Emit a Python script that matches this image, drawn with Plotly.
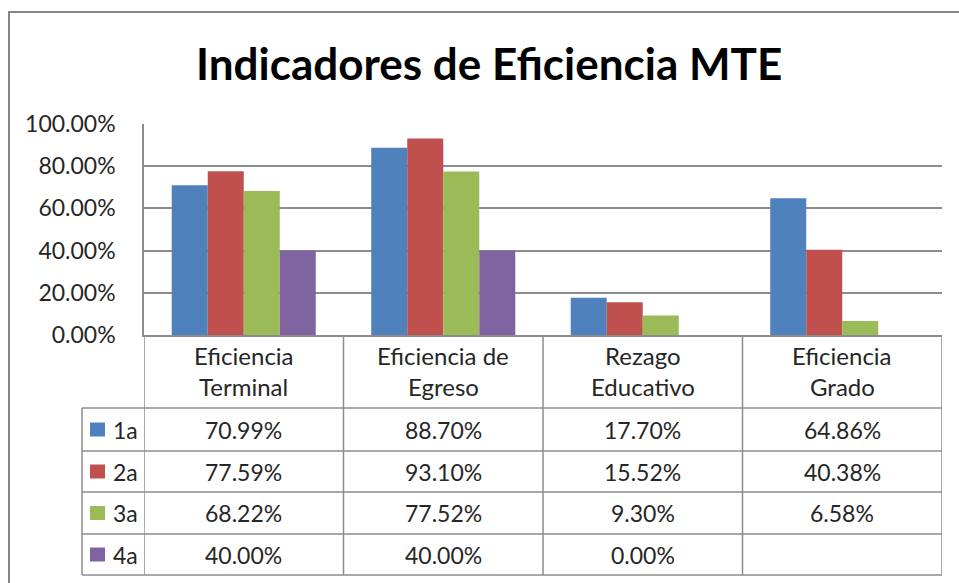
import plotly.graph_objects as go

# ---------------- data ----------------
categories = ["Eficiencia<br>Terminal", "Eficiencia de<br>Egreso", "Rezago<br>Educativo", "Eficiencia<br>Grado"]
series_names = ["1a", "2a", "3a", "4a"]
values_1a = [70.99, 88.70, 17.70, 64.86]
values_2a = [77.59, 93.10, 15.52, 40.38]
values_3a = [68.22, 77.52, 9.30, 6.58]
values_4a = [40.00, 40.00, 0.00, None]
series_colors = ["#4F81BD", "#C0504D", "#9BBB59", "#8064A2"]
y_tick_values = [0, 20, 40, 60, 80, 100]
y_tick_labels = ["0.00%", "20.00%", "40.00%", "60.00%", "80.00%", "100.00%"]
title_text = "Indicadores de Eficiencia MTE"

all_series = [values_1a, values_2a, values_3a, values_4a]

# ---------------- layout helpers ----------------
W, H = 959, 583
FONT = "Lato"
GRID = "#8C8C8C"
TXT = "#262626"
FS = 23
FS_HEAD = 24


def px(x):
    return x / W


def py(y):
    return 1 - y / H


plot_left, plot_right, plot_top, plot_bottom = 144, 942, 124, 335
table_left = 82
row_lines = [408, 451, 492, 534, 575]
header_lines_y = [355, 386]

fig = go.Figure()
for name, vals, col in zip(series_names, all_series, series_colors):
    fig.add_trace(go.Bar(x=categories, y=vals, name=name, marker=dict(color=col, line=dict(width=0)),
                         showlegend=False, hoverinfo="skip"))

shapes = []
annotations = []

# outer chart border
shapes.append(dict(type="rect", xref="paper", yref="paper", x0=px(9), x1=px(W + 20), y0=py(H + 20), y1=py(12),
                   line=dict(color="#868686", width=2), fillcolor="rgba(0,0,0,0)", layer="below"))

# table horizontal lines
for yy in row_lines:
    shapes.append(dict(type="line", xref="paper", yref="paper", x0=px(table_left), x1=px(plot_right),
                       y0=py(yy), y1=py(yy), line=dict(color=GRID, width=1.5)))
# vertical lines at category boundaries (axis units)
n = len(categories)
for i in range(n + 1):
    shapes.append(dict(type="line", xref="x", yref="paper", x0=i - 0.5, x1=i - 0.5,
                       y0=py(row_lines[-1]), y1=py(plot_bottom), line=dict(color=GRID, width=1.5)))
# legend column left edge
shapes.append(dict(type="line", xref="paper", yref="paper", x0=px(table_left), x1=px(table_left),
                   y0=py(row_lines[-1]), y1=py(row_lines[0]), line=dict(color=GRID, width=1.5)))

# header labels
for i, cat in enumerate(categories):
    for line_text, yy in zip(cat.split("<br>"), header_lines_y):
        annotations.append(dict(x=categories[i], xref="x", y=py(yy), yref="paper", text=line_text,
                                showarrow=False, xanchor="center", yanchor="middle",
                                font=dict(family=FONT, size=FS_HEAD, color=TXT)))

# data rows
for r, (name, vals, col) in enumerate(zip(series_names, all_series, series_colors)):
    y_top, y_bot = row_lines[r], row_lines[r + 1]
    yc = (y_top + y_bot) / 2
    shapes.append(dict(type="rect", xref="paper", yref="paper", x0=px(90), x1=px(105),
                       y0=py(yc + 7), y1=py(yc - 7), fillcolor=col, line=dict(width=0)))
    annotations.append(dict(x=px(111), xref="paper", y=py(yc), yref="paper", text=name, showarrow=False,
                            xanchor="left", yanchor="middle", font=dict(family=FONT, size=FS, color=TXT)))
    for i, v in enumerate(vals):
        if v is None:
            continue
        annotations.append(dict(x=categories[i], xref="x", y=py(yc), yref="paper", text=f"{v:.2f}%",
                                showarrow=False, xanchor="center", yanchor="middle",
                                font=dict(family=FONT, size=FS, color=TXT)))

# title
annotations.append(dict(x=px(489), xref="paper", y=py(63), yref="paper", text=f"<b>{title_text}</b>",
                        showarrow=False, xanchor="center", yanchor="middle",
                        font=dict(family=FONT, size=44, color="#000000")))

fig.update_layout(
    width=W, height=H,
    margin=dict(l=0, r=0, t=0, b=0, pad=0, autoexpand=False),
    paper_bgcolor="white", plot_bgcolor="white",
    barmode="group", bargap=0.278, bargroupgap=0,
    xaxis=dict(domain=[px(plot_left), px(plot_right)], showticklabels=False, ticks="",
               showgrid=False, showline=True, linecolor=GRID, linewidth=1.5, zeroline=False,
               range=[-0.5, n - 0.5], fixedrange=True, automargin=False),
    yaxis=dict(domain=[py(plot_bottom), py(plot_top)], range=[0, 100],
               tickvals=y_tick_values, ticktext=y_tick_labels, ticks="",
               ticklabelstandoff=22, automargin=False,
               showgrid=True, gridcolor=GRID, gridwidth=1.5, showline=True, linecolor=GRID, linewidth=1.5,
               zeroline=False, tickfont=dict(family=FONT, size=FS, color=TXT), fixedrange=True),
    shapes=shapes,
    annotations=annotations,
    showlegend=False,
)

fig.write_html(
    "out.html",
    config={"displayModeBar": False},
    post_script="document.documentElement.style.margin='0';document.body.style.margin='0';"
                "document.body.style.overflow='hidden';",
)
